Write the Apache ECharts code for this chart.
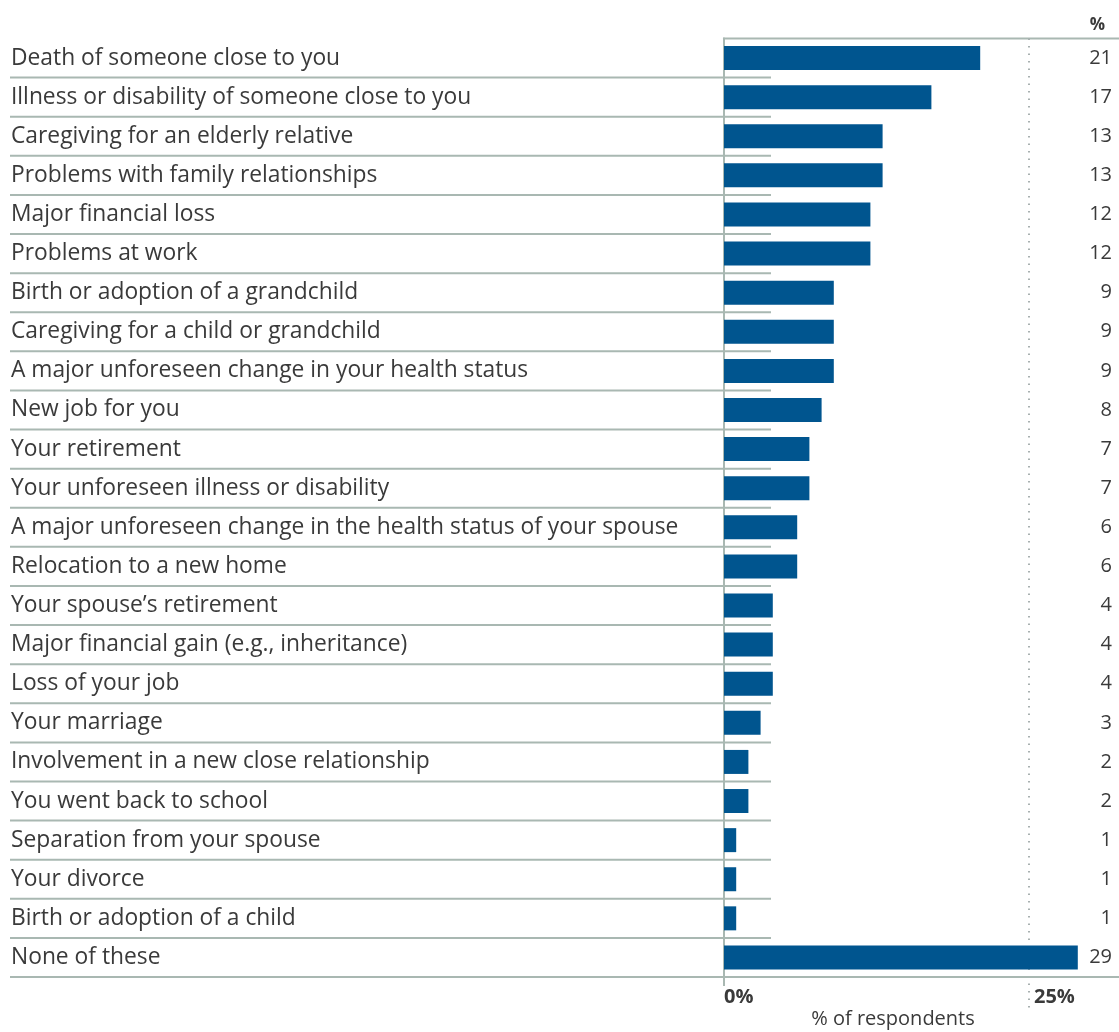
<!DOCTYPE html>
<html>
<head>
<meta charset="utf-8">
<style>
html,body{margin:0;padding:0;background:#fff;}
#chart{width:1119px;height:1032px;}
</style>
<script src="https://cdn.jsdelivr.net/npm/echarts@6/dist/echarts.min.js"></script>
</head>
<body>
<div id="chart"></div>
<script>
const categories = [
  'Death of someone close to you',
  'Illness or disability of someone close to you',
  'Caregiving for an elderly relative',
  'Problems with family relationships',
  'Major financial loss',
  'Problems at work',
  'Birth or adoption of a grandchild',
  'Caregiving for a child or grandchild',
  'A major unforeseen change in your health status',
  'New job for you',
  'Your retirement',
  'Your unforeseen illness or disability',
  'A major unforeseen change in the health status of your spouse',
  'Relocation to a new home',
  'Your spouse\u2019s retirement',
  'Major financial gain (e.g., inheritance)',
  'Loss of your job',
  'Your marriage',
  'Involvement in a new close relationship',
  'You went back to school',
  'Separation from your spouse',
  'Your divorce',
  'Birth or adoption of a child',
  'None of these'
];
const values = [21, 17, 13, 13, 12, 12, 9, 9, 9, 8, 7, 7, 6, 6, 4, 4, 4, 3, 2, 2, 1, 1, 1, 29];
const referenceLine = 25;
const xTickLabels = {0: '0%', 25: '25%'};

const FONT = '"Open Sans", "Noto Sans", sans-serif';
const LINE = '#a9b8b2';
const BAR = '#00558f';
const TEXT = '#3a3a3a';

const chart = echarts.init(document.getElementById('chart'));

const tickStyle = {fontSize: 20, fontWeight: 'bold', color: TEXT, fontFamily: FONT};

chart.setOption({
  animation: false,
  textStyle: {fontFamily: FONT},
  title: {
    text: '%', right: 9, top: 12,
    textStyle: {fontSize: 17, fontWeight: 'bold', color: TEXT, fontFamily: FONT}
  },
  grid: {left: 724, top: 38.5, width: 366, height: 938.5, outerBoundsMode: 'none', containLabel: false},
  xAxis: {
    type: 'value', min: 0, max: 30, interval: 25,
    axisLine: {show: false}, axisTick: {show: false}, splitLine: {show: false},
    axisLabel: {
      showMaxLabel: false,
      formatter: v => xTickLabels[v] ? (v === referenceLine ? '{r|' + xTickLabels[v] + '}' : '{z|' + xTickLabels[v] + '}') : '',
      align: 'left', margin: 10,
      rich: {
        z: Object.assign({padding: [0, 0, 0, 0]}, tickStyle),
        r: Object.assign({padding: [0, 0, 0, 5]}, tickStyle)
      }
    },
    name: '% of respondents', nameLocation: 'middle', nameGap: 32, nameMoveOverlap: false,
    nameTextStyle: {fontSize: 20, color: TEXT, fontFamily: FONT, padding: [0, 28, 0, 0]}
  },
  yAxis: [{
    type: 'category', data: categories, inverse: true,
    axisLine: {show: true, lineStyle: {color: LINE, width: 2}},
    axisTick: {show: false},
    axisLabel: {align: 'left', margin: 713, fontSize: 22.8, color: TEXT, fontFamily: FONT}
  }, {
    type: 'category', data: values.map(String), inverse: true, position: 'right',
    axisLine: {show: false}, axisTick: {show: false},
    axisLabel: {align: 'right', margin: 22, fontSize: 20, color: TEXT, fontFamily: FONT}
  }],
  series: [{
    type: 'bar', data: values, barWidth: 24,
    itemStyle: {color: BAR}, silent: true
  }, {
    type: 'custom',
    silent: true,
    clip: false,
    data: categories.map((c, i) => [0, i]),
    renderItem: function (params, api) {
      const i = api.value(1);
      const c = api.coord([0, i]);
      const band = api.size([0, 1])[1];
      const yb = c[1] + band / 2;
      const children = [];
      const last = i === categories.length - 1;
      children.push({
        type: 'line',
        shape: {x1: 10, y1: yb, x2: last ? 1119 : 771, y2: yb},
        style: {stroke: LINE, lineWidth: 2}
      });
      if (i === 0) {
        const yt = c[1] - band / 2;
        children.push({
          type: 'line',
          shape: {x1: c[0] - 1, y1: yt, x2: 1119, y2: yt},
          style: {stroke: LINE, lineWidth: 2}
        });
        const xr = api.coord([referenceLine, i])[0];
        children.push({
          type: 'line',
          shape: {x1: xr, y1: yt, x2: xr, y2: yt + band * categories.length + 36},
          style: {stroke: '#a8b0b0', lineWidth: 2, lineDash: [1.5, 6]}
        });
      }
      if (last) {
        children.push({
          type: 'line',
          shape: {x1: c[0], y1: yb, x2: c[0], y2: yb + 9},
          style: {stroke: LINE, lineWidth: 2}
        });
      }
      return {type: 'group', children: children};
    }
  }]
});
</script>
</body>
</html>
